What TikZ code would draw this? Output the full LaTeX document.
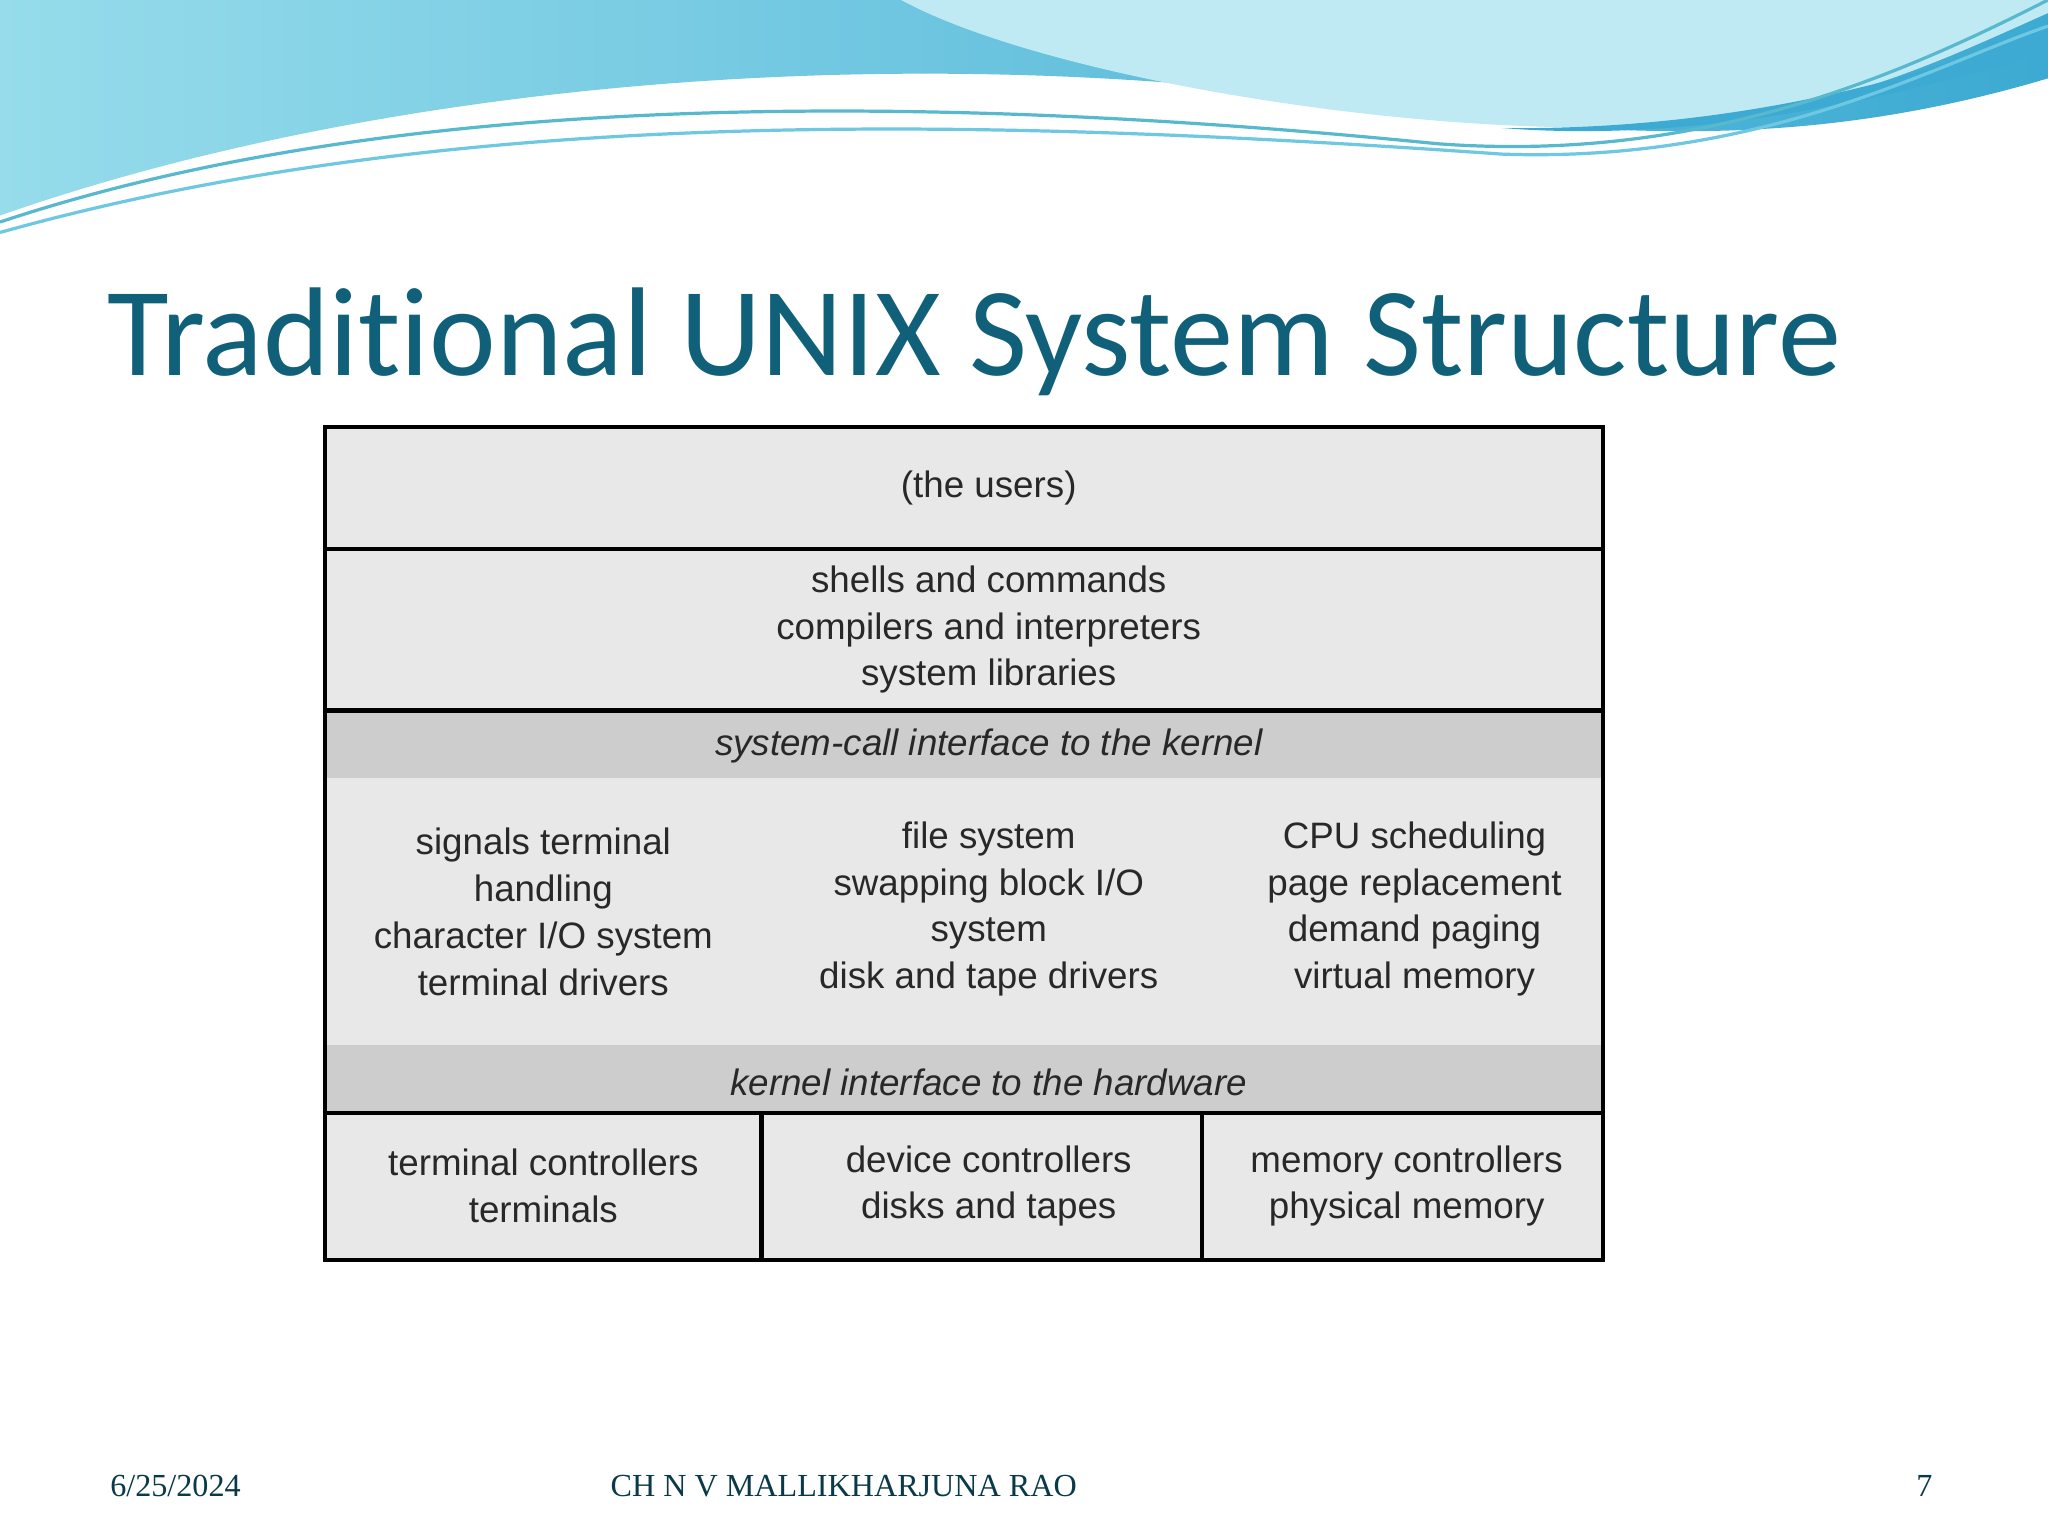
\documentclass[tikz,border=0pt]{standalone}
\usepackage{fontspec}
\setmainfont{Liberation Sans}
\newfontfamily\titlefont[Ligatures={NoCommon,NoDiscretionary}]{Carlito}
\newfontfamily\footfont{Liberation Serif}
\definecolor{titleblue}{RGB}{16,96,122}
\definecolor{wave1}{RGB}{110,200,225}
\definecolor{wave2}{RGB}{150,220,235}
\definecolor{wave3}{RGB}{60,170,210}
\definecolor{lightbox}{RGB}{232,232,232}
\definecolor{band}{RGB}{205,205,205}
\definecolor{txt}{RGB}{40,40,40}
\tikzset{
  boxtext/.style={font=\fontsize{8}{10.2}\selectfont, text=txt, align=center},
  bandtext/.style={font=\fontsize{8}{10}\selectfont\itshape, text=txt},
  frame/.style={draw=black, line width=0.9pt},
}
\begin{document}
\begin{tikzpicture}[x=0.01cm,y=-0.01cm]
\fill[white] (0,0) rectangle (1568,1176);
\useasboundingbox (0,0) rectangle (1568,1176);
% header waves
\shade[left color=wave2, right color=wave3] (0,0) -- (1568,0) -- (1568,60) .. controls (1400,110) and (1250,110) .. (1050,80) .. controls (700,30) and (300,60) .. (0,165) -- cycle;
\fill[wave2!60!white] (690,0) .. controls (800,60) and (1100,110) .. (1300,95) .. controls (1420,80) and (1500,40) .. (1568,10) -- (1568,0) -- cycle;
\fill[wave3] (1568,20) .. controls (1450,70) and (1300,100) .. (1150,98) .. controls (1300,110) and (1450,75) .. (1568,40) -- cycle;
\draw[wave1!80!teal, line width=0.7pt] (0,170) .. controls (300,70) and (700,70) .. (1100,110) .. controls (1300,125) and (1450,60) .. (1568,0);
\draw[wave1, line width=0.7pt] (0,178) .. controls (350,80) and (750,90) .. (1150,118) .. controls (1350,125) and (1480,50) .. (1568,20);
% title
\node[anchor=west, font=\titlefont\fontsize{27.5}{30}\selectfont, text=titleblue] (title) at (70,262) {Traditional UNIX System Structure};
% diagram
\fill[lightbox] (249,327) rectangle (1227,965);
\fill[band] (249,544) rectangle (1227,596);
\fill[band] (249,800) rectangle (1227,852);
\draw[frame] (249,327) rectangle (1227,965);
\draw[frame] (249,420) -- (1227,420);
\draw[frame] (249,544) -- (1227,544);
\draw[frame] (249,852) -- (1227,852);
\draw[frame] (583,852) -- (583,965);
\draw[frame] (920,852) -- (920,965);
\node[boxtext] (users) at (757,374) {(the users)};
\node[boxtext] (shells) at (757,482) {shells and commands\\compilers and interpreters\\system libraries};
\node[bandtext] (sci) at (757,571) {system-call interface to the kernel};
\node[boxtext] (k1) at (416,698) {signals terminal\\handling\\character I/O system\\terminal drivers};
\node[boxtext] (k2) at (757,696) {file system\\swapping block I/O\\system\\disk and tape drivers};
\node[boxtext] (k3) at (1083,696) {CPU scheduling\\page replacement\\demand paging\\virtual memory};
\node[bandtext] (kih) at (757,829) {kernel interface to the hardware};
\node[boxtext] (h1) at (416,908) {terminal controllers\\terminals};
\node[boxtext] (h2) at (757,908) {device controllers\\disks and tapes};
\node[boxtext] (h3) at (1077,908) {memory controllers\\physical memory};
% footer
\node[anchor=west, font=\footfont\fontsize{7}{8}\selectfont, text=titleblue!60!black] (date) at (72,1138) {6/25/2024};
\node[font=\footfont\fontsize{7}{8}\selectfont, text=titleblue!60!black] (author) at (646,1138) {CH N V MALLIKHARJUNA RAO};
\node[anchor=east, font=\footfont\fontsize{7}{8}\selectfont, text=titleblue!60!black] (page) at (1492,1138) {7};
\end{tikzpicture}
\end{document}
